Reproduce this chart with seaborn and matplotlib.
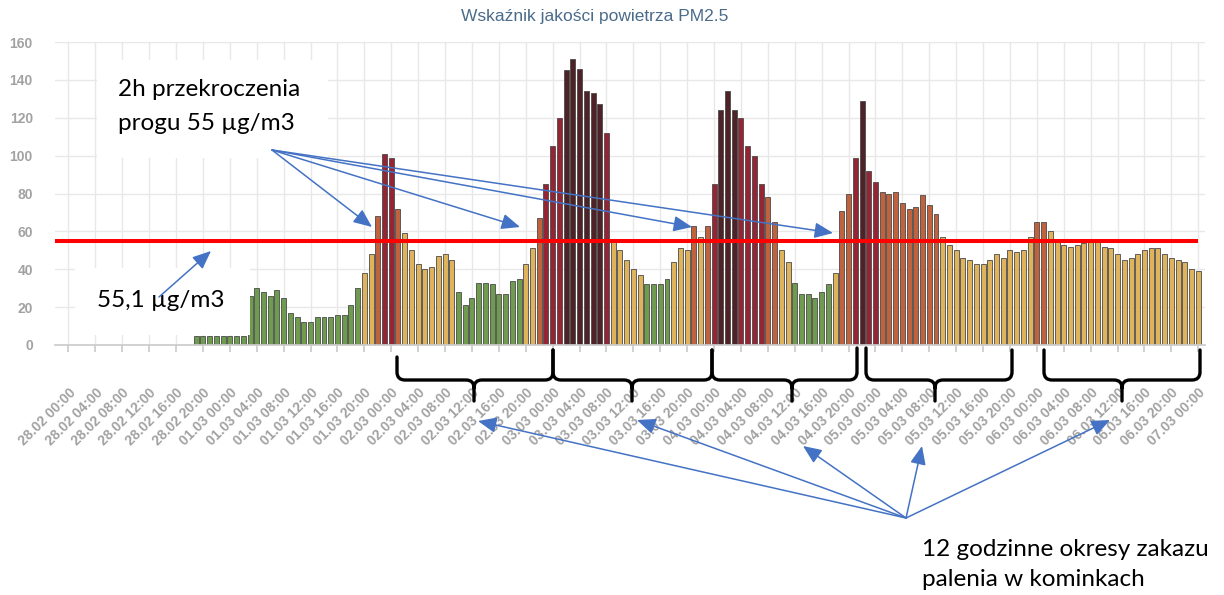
import matplotlib
matplotlib.use("Agg")
import matplotlib.pyplot as plt
import seaborn as sns
import pandas as pd
from matplotlib.path import Path
from matplotlib.patches import PathPatch, Rectangle

# Godzinowe wartości PM2.5 (µg/m3), pierwszy pomiar 28.02 19:00
pm_2802 = [5, 5, 5, 5, 5]
pm_0103 = [5, 5, 5, 26, 30, 28, 26, 29, 25, 17, 15, 12, 12, 15, 15, 15, 16, 16, 21, 30,
           38, 48, 68, 101]
pm_0203 = [99, 72, 59, 50, 43, 40, 41, 47, 48, 45, 28, 21, 25, 33, 33, 32, 27, 27, 34, 35,
           43, 51, 67, 85]
pm_0303 = [105, 120, 145, 151, 146, 134, 133, 127, 112, 56, 50, 45, 40, 37, 32, 32, 32, 35,
           44, 51, 50, 63, 57, 63]
pm_0403 = [85, 124, 134, 124, 120, 105, 100, 85, 78, 65, 50, 44, 33, 27, 27, 25, 28, 32,
           38, 71, 80, 99, 129, 92]
pm_0503 = [86, 81, 80, 81, 75, 72, 73, 79, 74, 69, 57, 53, 50, 46, 45, 43, 43, 45, 48, 46,
           50, 49, 50, 57]
pm_0603 = [65, 65, 60, 55, 53, 52, 53, 54, 56, 55, 52, 51, 48, 45, 46, 48, 50, 51, 51, 48,
           46, 45, 44, 40]
pm_0703 = [39]
first_hour = 19
threshold = 55.1

days = ["28.02", "01.03", "02.03", "03.03", "04.03", "05.03", "06.03"]
tick_hours = ["00:00", "04:00", "08:00", "12:00", "16:00", "20:00"]
tick_labels = [f"{d} {h}" for d in days for h in tick_hours] + ["07.03 00:00"]

level_names = ["dobry", "umiarkowany", "dostateczny", "zly", "bardzo zly"]
level_bins = [0, 35.5, 60.5, 82.5, 123.5, 200]
level_colors = {
    "dobry": "#6f9b4f",
    "umiarkowany": "#dfb35c",
    "dostateczny": "#c1623f",
    "zly": "#952535",
    "bardzo zly": "#4e2226",
}

pm = pm_2802 + pm_0103 + pm_0203 + pm_0303 + pm_0403 + pm_0503 + pm_0603 + pm_0703
df = pd.DataFrame({"hour": range(first_hour, first_hour + len(pm)), "pm": pm})
df["level"] = pd.cut(df["pm"], bins=level_bins, labels=level_names)

sns.set_theme(style="white")
plt.rcParams["font.family"] = ["Liberation Sans", "DejaVu Sans"]

W, H = 1224, 595
fig = plt.figure(figsize=(W / 100, H / 100), dpi=100)
ax = fig.add_axes([55 / W, 1 - 345 / H, 1150 / W, 303 / H])

sns.barplot(
    data=df, x="hour", y="pm", hue="level", palette=level_colors,
    native_scale=True, width=0.74, dodge=False, errorbar=None,
    saturation=1, edgecolor="#4a4a4a", linewidth=0.6, legend=False, ax=ax,
)

ax.hlines(threshold, -2, 168, color="red", lw=2.9, zorder=5)

ax.set_xlim(-2, 169)
ax.set_ylim(0, 160)
ax.set_xticks(range(0, 169, 4))
ax.set_xticklabels(tick_labels, rotation=45, ha="right", rotation_mode="anchor",
                   fontsize=10, fontweight="bold", color="#a2a2a2")
ax.set_yticks(range(0, 161, 20))
ax.set_yticklabels([str(v) for v in range(0, 161, 20)], fontsize=10,
                   fontweight="bold", color="#a2a2a2")
ax.tick_params(axis="x", length=5, color="#cccccc", pad=24, bottom=True)
ax.tick_params(axis="y", length=0, pad=16)
ax.set_axisbelow(True)
ax.grid(True, color="#e8e8e8", lw=1)
ax.set_xlabel("")
ax.set_ylabel("")
for s in ["top", "right", "left"]:
    ax.spines[s].set_visible(False)
ax.spines["bottom"].set_color("#cccccc")

fig.text(595 / W, 1 - 17 / H, "Wskaźnik jakości powietrza PM2.5", ha="center",
         va="center", fontsize=12.5, color="#4a6b8a")

# warstwa z adnotacjami (współrzędne w pikselach)
ov = fig.add_axes([0, 0, 1, 1], facecolor="none")
ov.set_xlim(0, W)
ov.set_ylim(H, 0)
ov.axis("off")

note_font = dict(fontsize=17.5, family=["Lato", "DejaVu Sans"], color="black")
ov.add_patch(Rectangle((97, 60), 231, 98, fc="white", ec="none"))
ov.add_patch(Rectangle((75, 268), 175, 67, fc="white", ec="none"))
ov.text(118, 96, "2h przekroczenia", va="baseline", **note_font)
ov.text(118, 130, "progu 55 µg/m3", va="baseline", **note_font)
ov.text(97, 307, "55,1 µg/m3", va="baseline", **note_font)
ov.text(922, 556, "12 godzinne okresy zakazu", va="baseline", **note_font)
ov.text(922, 586, "palenia w kominkach", va="baseline", **note_font)

arrow = dict(arrowstyle="-|>,head_length=0.75,head_width=0.32", color="#4472c4",
             lw=1.1, mutation_scale=15, shrinkA=0, shrinkB=0)
for tip in [(372, 227), (520, 227), (692, 227), (833, 233)]:
    ov.annotate("", xy=tip, xytext=(272, 150), arrowprops=arrow)
ov.annotate("", xy=(211, 251), xytext=(159, 297), arrowprops=arrow)
for tip in [(478, 421), (637, 420), (803, 446), (922, 446), (1110, 420)]:
    ov.annotate("", xy=tip, xytext=(906, 518), arrowprops=arrow)


def brace(x0, x1, xm, top0, top1, line=380, tip=401, r=8):
    verts = [(x0, top0), (x0, line - r), (x0, line), (x0 + r, line), (xm - r, line),
             (xm, line), (xm, line + r), (xm, tip),
             (xm, line + r), (xm, line), (xm + r, line), (x1 - r, line),
             (x1, line), (x1, line - r), (x1, top1)]
    codes = [Path.MOVETO, Path.LINETO, Path.CURVE3, Path.CURVE3, Path.LINETO,
             Path.CURVE3, Path.CURVE3, Path.LINETO,
             Path.MOVETO, Path.CURVE3, Path.CURVE3, Path.LINETO,
             Path.CURVE3, Path.CURVE3, Path.LINETO]
    ov.add_patch(PathPatch(Path(verts, codes), fc="none", ec="black", lw=2.4,
                           capstyle="round", joinstyle="round"))


brace(397, 553, 474, 357, 350)
brace(553, 712, 632, 350, 350)
brace(712, 857, 792, 350, 348)
brace(866, 1012, 935, 348, 350)
brace(1044, 1200, 1122, 350, 350)

fig.savefig("out.png", dpi=100)
